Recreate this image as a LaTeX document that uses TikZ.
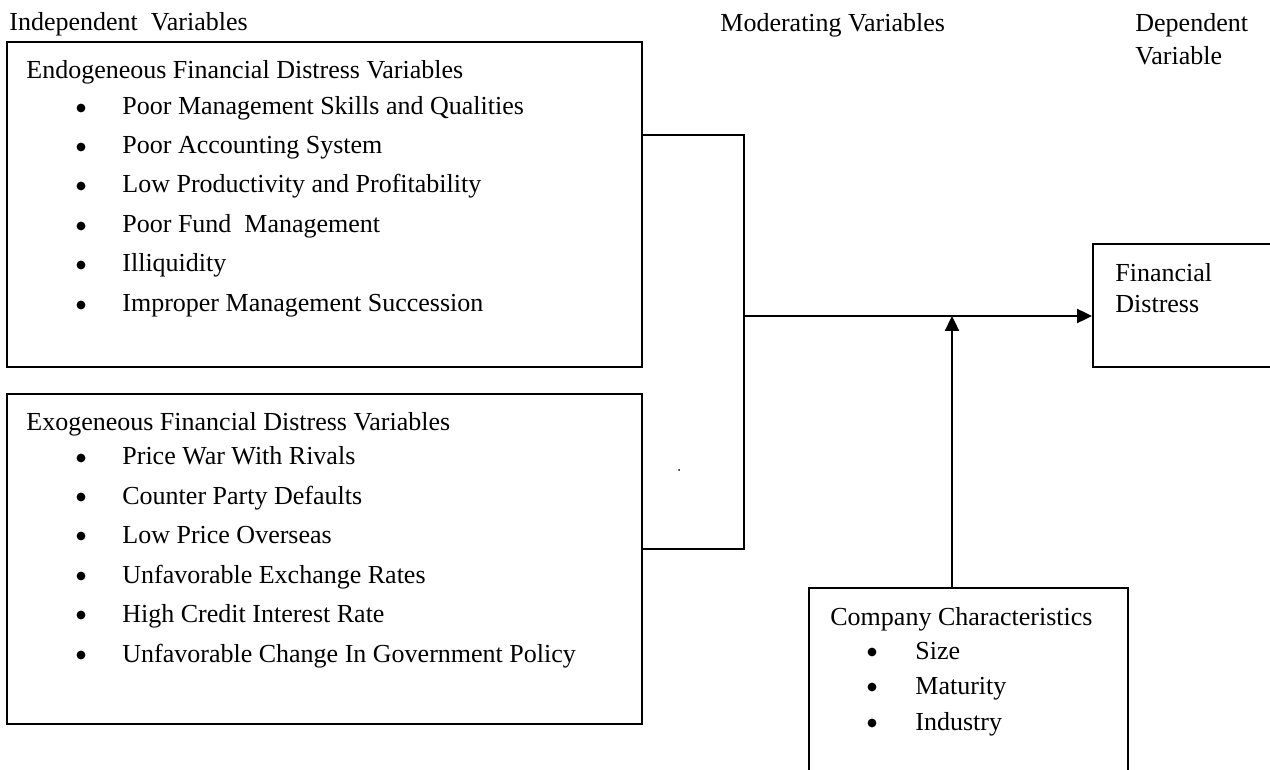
\documentclass[tikz,border=0pt]{standalone}
\usepackage{fontspec}
\setmainfont{Liberation Serif}
\usetikzlibrary{arrows.meta}

\tikzset{
  box/.style={draw, line width=1pt, inner sep=0pt},
  txt/.style={anchor=base west, inner sep=0pt, font=\fontsize{13}{15}\selectfont},
  bul/.style={circle, fill, inner sep=0pt, minimum width=4.4pt, minimum height=4.4pt},
  link/.style={line width=1pt},
  arr/.style={line width=1.2pt, -{Triangle[length=7.5pt,width=7pt]}}
}

\begin{document}
\begin{tikzpicture}[x=0.5pt,y=-0.5pt]
\useasboundingbox (0,0) rectangle (1270,770);

% column headings
\node[txt] (hind) at (9,31) {Independent~ Variables};
\node[txt] (hmod) at (720,32) {Moderating Variables};
\node[txt] (hdep) at (1135,32) {Dependent};
\node[txt] (hdep2) at (1135,65) {Variable};

% boxes
\node[box, minimum width=317.5pt, minimum height=162.5pt] (endo) at (324.5,204.5) {};
\node[box, minimum width=317.5pt, minimum height=165pt] (exo) at (324.5,559) {};
\node[box, minimum width=98.5pt, minimum height=61.5pt] (fd) at (1191.5,305.5) {};
\node[box, minimum width=159.5pt, minimum height=101pt] (comp) at (968.5,689) {};

% endogeneous
\node[txt] (endoT) at (26,79) {Endogeneous Financial Distress Variables};
\node[bul] (b1) at (81,108) {};
\node[bul] (b2) at (81,147) {};
\node[bul] (b3) at (81,186) {};
\node[bul] (b4) at (81,226) {};
\node[bul] (b5) at (81,265) {};
\node[bul] (b6) at (81,305) {};
\node[txt] (n1) at (122,115) {Poor Management Skills and Qualities};
\node[txt] (n2) at (122,154) {Poor Accounting System};
\node[txt] (n3) at (122,193) {Low Productivity and Profitability};
\node[txt] (n4) at (122,233) {Poor Fund~ Management};
\node[txt] (n5) at (122,272) {Illiquidity};
\node[txt] (n6) at (122,312) {Improper Management Succession};

% exogeneous
\node[txt] (exoT) at (26,430) {Exogeneous Financial Distress Variables};
\node[bul] (c1) at (81,458) {};
\node[bul] (c2) at (81,497) {};
\node[bul] (c3) at (81,536) {};
\node[bul] (c4) at (81,576) {};
\node[bul] (c5) at (81,615) {};
\node[bul] (c6) at (81,655) {};
\node[txt] (x1) at (122,465) {Price War With Rivals};
\node[txt] (x2) at (122,504) {Counter Party Defaults};
\node[txt] (x3) at (122,543) {Low Price Overseas};
\node[txt] (x4) at (122,583) {Unfavorable Exchange Rates};
\node[txt] (x5) at (122,622) {High Credit Interest Rate};
\node[txt] (x6) at (122,662) {Unfavorable Change In Government Policy};

% dependent
\node[txt] (fd1) at (1115,282) {Financial};
\node[txt] (fd2) at (1115,313) {Distress};

% moderating
\node[txt] (compT) at (830,625) {Company Characteristics};
\node[bul] (d1) at (872,652) {};
\node[bul] (d2) at (872,687) {};
\node[bul] (d3) at (872,723) {};
\node[txt] (m1) at (915,659) {Size};
\node[txt] (m2) at (915,694) {Maturity};
\node[txt] (m3) at (915,730) {Industry};

\fill (679,470) circle (1);

% connectors
\coordinate (j1) at (744,135);
\coordinate (j2) at (744,549);
\coordinate (j3) at (744,316);
\coordinate (jm) at (952,316);
\draw[link] (endo.east |- j1) -- (j1) -- (j2) -- (exo.east |- j2);
\draw[arr] (j3) -- (fd.west |- j3);
\draw[arr] (comp.north -| jm) -- (jm);
\end{tikzpicture}
\end{document}
